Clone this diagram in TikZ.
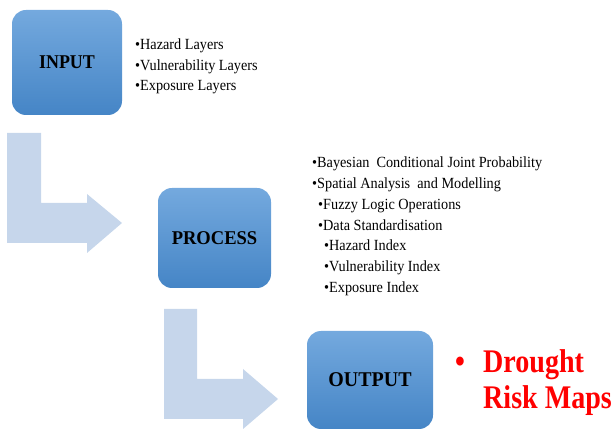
\documentclass[tikz,border=0pt]{standalone}
\usepackage{fontspec}
\setmainfont{Liberation Serif}
\usepackage{graphicx}

% horizontally condensed text
\newcommand{\hsq}[2]{\scalebox{#1}[1]{#2}}

\definecolor{boxtop}{HTML}{74A9DE}
\definecolor{boxbot}{HTML}{4585C6}
\definecolor{flowarrow}{HTML}{C6D6EB}
\definecolor{riskred}{HTML}{FF0000}

\begin{document}
\begin{tikzpicture}[x=1pt,y=-1pt,
  stagebox/.style={rounded corners=14pt, top color=boxtop, bottom color=boxbot,
    draw=none, inner sep=0pt, font=\bfseries\fontsize{19.5}{22}\selectfont},
  item/.style={anchor=base west, inner sep=0pt, font=\fontsize{15.5}{20}\selectfont},
  bigitem/.style={anchor=base west, inner sep=0pt, text=riskred,
    font=\bfseries\fontsize{33}{36}\selectfont},
  flow/.style={fill=flowarrow, draw=none}]
\useasboundingbox (0,0) rectangle (614,430);

% L-shaped flow arrows
\fill[flow] (7,133) -- (41,133) -- (41,203) -- (87,203) -- (87,194) -- (122,223)
  -- (87,253) -- (87,243) -- (7,243) -- cycle;
\fill[flow] (164,309) -- (197,309) -- (197,379) -- (243,379) -- (243,369) -- (278,399)
  -- (243,429) -- (243,419) -- (164,419) -- cycle;

% stages
\node[stagebox, minimum width=110pt, minimum height=105pt] (input) at (67,62.5)
  {\hsq{0.92}{INPUT}};
\node[stagebox, minimum width=113pt, minimum height=100pt] (process) at (214.5,238)
  {\hsq{0.95}{PROCESS}};
\node[stagebox, minimum width=126pt, minimum height=98pt,
  font=\bfseries\fontsize{21}{24}\selectfont] (output) at (370,380)
  {\hsq{0.95}{OUTPUT}};

% input items
\node[item] (i1) at (135,50) {\hsq{0.92}{•Hazard Layers}};
\node[item] (i2) at (135,70.5) {\hsq{0.92}{•Vulnerability Layers}};
\node[item] (i3) at (135,91) {\hsq{0.92}{•Exposure Layers}};

% process items
\node[item] (p1) at (312,168) {\hsq{0.92}{•Bayesian\ \ Conditional Joint Probability}};
\node[item] (p2) at (312,188.7) {\hsq{0.92}{•Spatial Analysis\ \ and Modelling}};
\node[item] (p3) at (318,209.4) {\hsq{0.92}{•Fuzzy Logic Operations}};
\node[item] (p4) at (318,230.1) {\hsq{0.92}{•Data Standardisation}};
\node[item] (p5) at (324,250.8) {\hsq{0.92}{•Hazard Index}};
\node[item] (p6) at (324,271.5) {\hsq{0.92}{•Vulnerability Index}};
\node[item] (p7) at (324,292.2) {\hsq{0.92}{•Exposure Index}};

% output item
\node[bigitem] (o0) at (455,373) {\hsq{0.85}{•}};
\node[bigitem] (o1) at (483,373) {\hsq{0.85}{Drought}};
\node[bigitem] (o2) at (483,409) {\hsq{0.85}{Risk Maps}};
\end{tikzpicture}
\end{document}
